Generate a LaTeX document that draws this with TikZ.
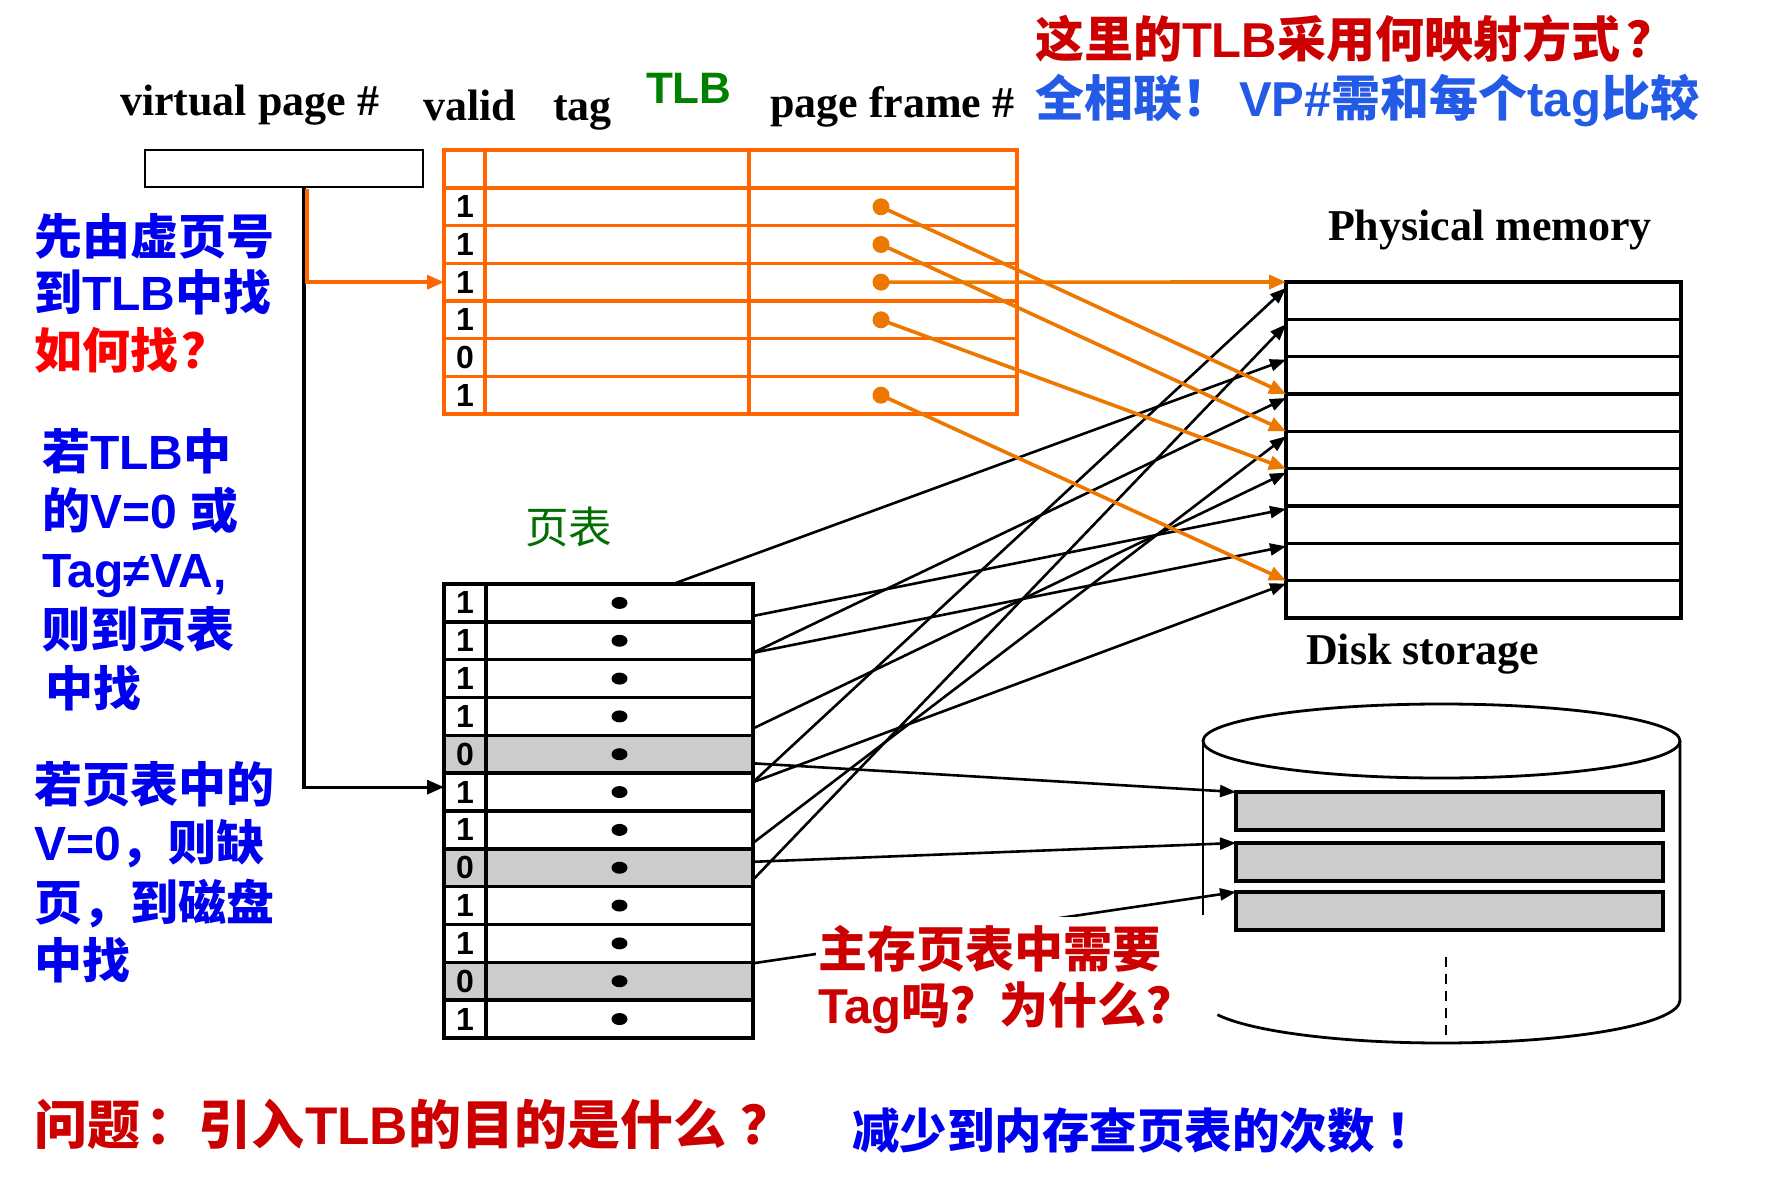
\documentclass[tikz,border=0pt]{standalone}
\usepackage{fontspec}
\setmainfont{Liberation Serif}
\newfontfamily\zh{Noto Sans CJK SC}
\newfontfamily\ar{Liberation Sans}
\usetikzlibrary{arrows.meta,calc}
\definecolor{redA}{RGB}{204,0,0}
\definecolor{redB}{RGB}{255,0,0}
\definecolor{blueA}{RGB}{0,0,240}
\definecolor{blueB}{RGB}{35,90,230}
\definecolor{greenA}{RGB}{0,128,0}
\definecolor{greenB}{RGB}{0,110,0}
\definecolor{tlbor}{RGB}{255,102,0}
\definecolor{ptror}{RGB}{237,120,0}
\definecolor{cellgray}{RGB}{204,204,204}
\begin{document}
\begin{tikzpicture}[x=0.5pt,y=-0.5pt,
  txt/.style={anchor=base west, inner sep=0pt, outer sep=0pt},
  en/.style={txt, font=\bfseries\fontsize{22pt}{26pt}\selectfont},
  zhb/.style={txt, font=\zh\bfseries\fontsize{24pt}{28pt}\selectfont},
  tlbrow/.style={draw=tlbor, line width=1.7pt, minimum width=286.5pt, minimum height=18.83pt, anchor=north west, inner sep=0pt, outer sep=0pt},
  digit/.style={font=\ar\bfseries\fontsize{16pt}{18pt}\selectfont, inner sep=0pt},
  memrow/.style={draw, line width=1.7pt, minimum width=197.5pt, minimum height=18.67pt, anchor=north west, inner sep=0pt, outer sep=0pt},
  pvcell/.style={draw, line width=1.7pt, minimum width=21pt, minimum height=18.92pt, anchor=north west, inner sep=0pt, outer sep=0pt, font=\ar\bfseries\fontsize{16pt}{18pt}\selectfont},
  pecell/.style={draw, line width=1.7pt, minimum width=133.5pt, minimum height=18.92pt, anchor=north west, inner sep=0pt, outer sep=0pt},
  diskrow/.style={draw, fill=cellgray, line width=1.6pt, minimum width=213.5pt, minimum height=19pt, anchor=north west, inner sep=0pt, outer sep=0pt},
  odot/.style={circle, fill=ptror, minimum size=8.5pt, inner sep=0pt},
  optr/.style={draw=ptror, line width=1.8pt, -{Triangle[length=8.5pt,width=7pt]}},
  ptr/.style={draw, line width=1.3pt, -{Triangle[length=8pt,width=6pt]}},
  cyl/.style={line width=1.4pt},
]
\fill[white] (0,0) rectangle (1777,1177);
\useasboundingbox (0,0) rectangle (1777,1177);

% ---------- headings ----------
\node[en] (hvp) at (120,116) {virtual page \#};
\node[en] (hvalid) at (423,120) {valid};
\node[en] (htag) at (553,120) {tag};
\node[txt, text=greenA, font=\ar\bfseries\fontsize{22pt}{26pt}\selectfont] (htlb) at (646,104) {TLB};
\node[en] (hpf) at (770,118) {page frame \#};
\node[zhb, text=redA, font=\zh\bfseries\fontsize{24.5pt}{28pt}\selectfont] (q1) at (1035,58) {这里的\ar TLB\zh 采用何映射方式\hspace{3pt}？};
\node[zhb, text=blueB, font=\zh\bfseries\fontsize{24.5pt}{28pt}\selectfont] (q2) at (1035,117) {全相联！\hspace{4pt}\ar VP\#\zh 需和每个\ar tag\zh 比较};

% ---------- left notes ----------
\node[zhb, text=blueA] (l1) at (34,254) {先由虚页号};
\node[zhb, text=blueA] (l2) at (34,310) {到\ar TLB\zh 中找};
\node[zhb, text=redB] (l3) at (34,368) {如何找\hspace{2pt}？};
\node[zhb, text=blueA] (l4) at (42,469) {若\ar TLB\zh 中};
\node[zhb, text=blueA] (l5) at (42,528) {的\ar V=0 \zh 或};
\node[zhb, text=blueA] (l6) at (42,587) {\ar Tag≠VA,};
\node[zhb, text=blueA] (l7) at (42,647) {则到页表};
\node[zhb, text=blueA] (l8) at (45,706) {中找};
\node[zhb, text=blueA] (l9) at (34,802) {若页表中的};
\node[zhb, text=blueA] (l10) at (34,860) {\ar V=0\zh ，则缺};
\node[zhb, text=blueA] (l11) at (34,920) {页，到磁盘};
\node[zhb, text=blueA] (l12) at (34,978) {中找};

% ---------- virtual page box ----------
\node[draw, line width=1.3pt, minimum width=139pt, minimum height=18.5pt, anchor=north west, inner sep=0pt, outer sep=0pt] (vp) at (145,150) {};

% ---------- TLB ----------
\node[tlbrow, minimum height=19pt] (tlbh) at (444,150) {};
\foreach \i/\v in {1/1,2/1,3/1,4/1,5/0,6/1} {
  \node[tlbrow] (tlb\i) at (444,{188+37.67*(\i-1)}) {};
  \node[digit] (tv\i) at ($(tlb\i.west)+(21,0)$) {\v};
}
\draw[draw=tlbor, line width=1.7pt] ($(tlbh.north west)+(41,0)$) -- ($(tlb6.south west)+(41,0)$);
\draw[draw=tlbor, line width=1.7pt] ($(tlbh.north west)+(305,0)$) -- ($(tlb6.south west)+(305,0)$);

% ---------- page table ----------
\node[txt, text=greenB, font=\zh\fontsize{21.75pt}{26pt}\selectfont] (ptl) at (525,543) {页表};
\foreach \i/\v/\f in {1/1/white,2/1/white,3/1/white,4/1/white,5/0/cellgray,6/1/white,7/1/white,8/0/cellgray,9/1/white,10/1/white,11/0/cellgray,12/1/white} {
  \node[pvcell, fill=\f] (pv\i) at (444,{584+37.83*(\i-1)}) {\v};
  \node[pecell, fill=\f] (pe\i) at (486,{584+37.83*(\i-1)}) {};
  \fill (pe\i.center) ellipse [x radius=8, y radius=6];
}

% ---------- physical memory ----------
\node[en] (hpm) at (1328,240) {Physical memory};
\foreach \i in {1,...,9} \node[memrow] (mem\i) at (1286,{282+37.33*(\i-1)}) {};

% ---------- disk ----------
\node[en] (hds) at (1306,664) {Disk storage};
\draw[cyl] (1441.5,741) ellipse [x radius=238.5, y radius=37];
\draw[cyl] (1203,741) -- (1203,915);
\draw[cyl] (1680,741) -- (1680,1000) arc[start angle=0, end angle=160, x radius=238.5, y radius=43];
\draw[line width=1.1pt, dash pattern=on 5pt off 3.5pt] (1446,957) -- (1446,1037);
\node[diskrow] (d1) at (1236,792) {};
\node[diskrow] (d2) at (1236,843) {};
\node[diskrow] (d3) at (1236,892) {};

% ---------- lookup paths ----------
\draw[line width=1.6pt, -{Triangle[length=8.5pt,width=7pt]}] ($(vp.south west)+(159,0)$) |- ($(pv6.north west)+(0,14)$);
\draw[draw=tlbor, line width=1.7pt, -{Triangle[length=8.5pt,width=7pt]}] ($(vp.south west)+(162,2)$) |- (tlb3.west);

% ---------- page table -> memory / disk ----------
\draw[ptr] ($(pe1.north west)+(187,0)$) -- ($(mem3.north west)+(0,3)$);
\draw[ptr] ($(pe1.north east)+(0,32)$) -- ($(mem7.north west)+(0,3)$);
\draw[ptr] ($(pe2.north east)+(0,31)$) -- ($(mem4.north west)+(0,4)$);
\draw[ptr] ($(pe2.north east)+(0,31)$) -- ($(mem8.north west)+(0,3)$);
\draw[ptr] ($(pe4.north east)+(0,31)$) -- ($(mem6.north west)+(0,4)$);
\draw[ptr] ($(pe6.north east)+(0,9)$) -- ($(mem1.north west)+(0,6)$);
\draw[ptr] ($(pe6.north east)+(0,9)$) -- ($(mem9.north west)+(0,3)$);
\draw[ptr] ($(pe7.north east)+(0,32)$) -- ($(mem5.north west)+(0,5)$);
\draw[ptr] ($(pe8.north east)+(0,31)$) -- ($(mem2.north west)+(0,5)$);
\draw[ptr] ($(pe5.north east)+(0,28)$) -- (d1.north west);
\draw[ptr] ($(pe8.north east)+(0,13)$) -- (d2.north west);
\draw[ptr] ($(pe11.north east)+(0,1)$) -- (d3.north west);

% ---------- TLB -> memory ----------
\foreach \i in {1,2,3,4,6} \node[odot] (td\i) at ($(tlb\i.west)+(437,0)$) {};
\draw[optr] (td1.center) -- (mem4.north west);
\draw[optr] (td2.center) -- (mem5.north west);
\draw[optr] (td3.center) -- (mem1.north west);
\draw[optr] (td4.center) -- (mem6.north west);
\draw[optr] (td6.center) -- (mem9.north west);

% ---------- question label ----------
\node[anchor=north west, fill=white, inner xsep=1pt, inner ysep=4pt, align=left, text=redA, font=\zh\bfseries\fontsize{24.5pt}{28pt}\selectfont] (lab) at (816,917) {主存页表中需要\\\ar Tag\zh 吗？为什么？};

% ---------- bottom ----------
\node[txt, text=redA, font=\zh\bfseries\fontsize{26.5pt}{32pt}\selectfont] (b1) at (34,1144) {问题\hspace{3pt}：引入\ar TLB\zh 的目的是什么\hspace{7pt}？};
\node[txt, text=blueA, font=\zh\bfseries\fontsize{23.75pt}{28pt}\selectfont] (b2) at (852,1148) {减少到内存查页表的次数\hspace{6pt}！};
\end{tikzpicture}
\end{document}
